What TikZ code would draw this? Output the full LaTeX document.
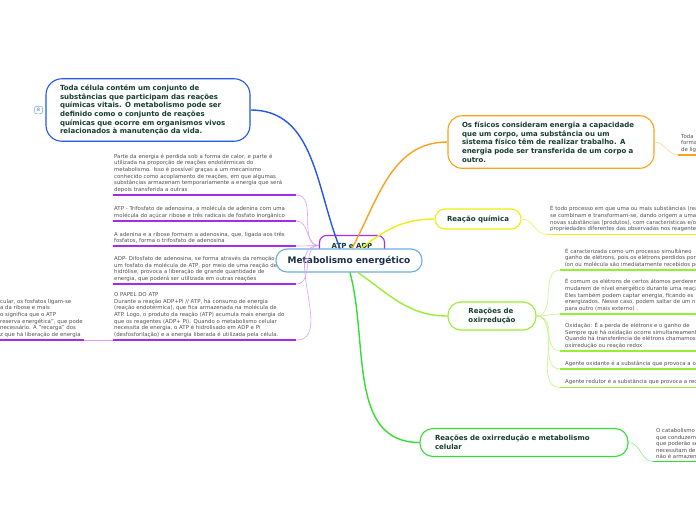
\documentclass[tikz,border=0pt]{standalone}
\usepackage{fontspec}
\setmainfont{DejaVu Sans}
\usepackage{tikz}
\usetikzlibrary{positioning}

\definecolor{cellblue}{HTML}{2457E8}
\definecolor{physorange}{HTML}{F9A21B}
\definecolor{chemyellow}{HTML}{EEEE11}
\definecolor{redoxlime}{HTML}{99EE33}
\definecolor{cellgreen}{HTML}{33DD33}
\definecolor{atppurple}{HTML}{A62BEA}
\definecolor{mainblue}{HTML}{6BAEDD}
\definecolor{nodetxt}{HTML}{143D2E}
\definecolor{maintxt}{HTML}{1B2E4B}
\definecolor{leaftxt}{HTML}{505050}

\begin{document}
\begin{tikzpicture}[
    x=1pt,y=-1pt,
    topic/.style={draw=#1,line width=1.1pt,rounded corners=12pt,fill=white,
                  align=left,text=nodetxt,font=\bfseries\fontsize{7}{8.7}\selectfont},
    leaf/.style={anchor=south west,align=left,text=leaftxt,inner xsep=1pt,
                 inner ysep=2.4pt,font=\fontsize{5.4}{6.6}\selectfont},
    uline/.style={line width=1.7pt,#1},
    branch/.style={line width=1.4pt,#1},
    twig/.style={line width=0.6pt,#1},
]
\useasboundingbox (0,0) rectangle (696,520);
\clip (0,0) rectangle (696,520);

% ATP e ADP (sits behind the central topic)
\node[draw=atppurple,line width=1.1pt,rounded corners=7pt,minimum width=65pt,
      minimum height=20pt,text=nodetxt,font=\bfseries\fontsize{7}{8.7}\selectfont]
      (atp) at (352,245.5) {ATP e ADP};

% ATP leaves (left)
\node[leaf,text width=181pt] (heat) at (113,195)
  {Parte da energia é perdida sob a forma de calor, e parte é\\
   utilizada na proporção de reações endotérmicas do\\
   metabolismo. Isso é possível graças a um mecanismo\\
   conhecido como acoplamento de reações, em que algumas\\
   substâncias armazenam temporariamente a energia que será\\
   depois transferida a outras};
\node[leaf,text width=181pt] (atpdef) at (113,221)
  {ATP - Trifosfato de adenosina, a molécula de adenina com uma\\
   molécula do açúcar ribose e três radicais de fosfato inorgânico};
\node[leaf,text width=181pt] (adenosine) at (113,246)
  {A adenina e a ribose formam a adenosina, que, ligada aos três\\
   fosfatos, forma o trifosfato de adenosina};
\node[leaf,text width=181pt] (adpdef) at (113,284)
  {ADP- Difosfato de adenosina, se forma através da remoção de\\
   um fosfato da molécula de ATP, por meio de uma reação de\\
   hidrólise, provoca a liberação de grande quantidade de\\
   energia, que poderá ser utilizada em outras reações};
\node[leaf,text width=181pt] (atprole) at (113,340)
  {O PAPEL DO ATP\\
   Durante a reação ADP+Pi // ATP, há consumo de energia\\
   (reação endotérmica), que fica armazenada na molécula de\\
   ATP. Logo, o produto da reação (ATP) acumula mais energia do\\
   que os reagentes (ADP+ Pi). Quando o metabolismo celular\\
   necessita de energia, o ATP é hidrolisado em ADP e Pi\\
   (desfosforilação) e a energia liberada é utilizada pela célula.};
\node[leaf] (atpleft) at (-1,340)
  {cular, os fosfatos ligam-se\\
   a da ribose e mais\\
   o significa que o ATP\\
   reserva energética", que pode\\
   necessário. A "recarga" dos\\
   z que há liberação de energia};

% Central topic
\node[draw=mainblue,line width=1.1pt,rounded corners=11pt,fill=white,
      minimum width=146pt,minimum height=23pt,text=maintxt,
      font=\bfseries\fontsize{9}{10}\selectfont] (main) at (349,260.5)
      {Metabolismo energético};

% Main topics
\node[topic=cellblue,rounded corners=16pt,text width=176pt,inner xsep=14pt,
      inner ysep=6pt] (cell) at (148,110)
  {Toda célula contém um conjunto de\\
   substâncias que participam das reações\\
   químicas vitais. O metabolismo pode ser\\
   definido como o conjunto de reações\\
   químicas que ocorre em organismos vivos\\
   relacionados à manutenção da vida.};
\node[draw=mainblue,rounded corners=2pt,line width=0.5pt,minimum width=8pt,
      minimum height=7.5pt,inner sep=0.5pt,text=cellblue,
      font=\fontsize{4.5}{5}\selectfont] (badge) at (38.5,110) {8};

\node[topic=physorange,rounded corners=14pt,text width=178pt,inner xsep=14pt,
      inner ysep=6pt] (phys) at (551,142)
  {Os físicos consideram energia a capacidade\\
   que um corpo, uma substância ou um\\
   sistema físico têm de realizar trabalho. A\\
   energia pode ser transferida de um corpo a\\
   outro.};

\node[topic=chemyellow,rounded corners=10pt,minimum width=86pt,
      minimum height=20pt] (chem) at (478,219) {Reação química};

\node[topic=redoxlime,rounded corners=13pt,minimum width=88pt,
      minimum height=28pt] (redox) at (492,316) {Reações de\\oxirredução};

\node[topic=cellgreen,rounded corners=13pt,text width=178pt,inner xsep=15pt,
      minimum height=28pt] (cellredox) at (524,442.5)
  {Reações de oxirredução e metabolismo\\celular};

% Right leaves
\node[leaf,inner xsep=3pt] (physleaf) at (678,155)
  {Toda\\forma\\de ligação};
\node[leaf,inner xsep=3pt] (chemleaf) at (547,234.5)
  {É todo processo em que uma ou mais substâncias (reagentes)\\
   se combinam e transformam-se, dando origem a uma\\
   novas substâncias (produtos), com características e/ou\\
   propriedades diferentes das observadas nos reagentes};
\node[leaf,inner xsep=5pt] (rxa) at (560,270)
  {É caracterizada como um processo simultâneo\\
   ganho de elétrons, pois os elétrons perdidos por\\
   íon ou molécula são imediatamente recebidos por};
\node[leaf,inner xsep=5pt] (rxb) at (560,314)
  {É comum os elétrons de certos átomos perderem\\
   mudarem de nível energético durante uma reação\\
   Eles também podem captar energia, ficando es\\
   energizados. Nesse caso, podem saltar de um nível\\
   para outro (mais externo) .};
\node[leaf,inner xsep=5pt] (rxc) at (560,351)
  {Oxidação: É a perda de elétrons e o ganho de\\
   Sempre que há oxidação ocorre simultaneamente\\
   Quando há transferência de elétrons chamamos\\
   oxirredução ou reação redox};
\node[leaf,inner xsep=5pt] (rxd) at (560,369)
  {Agente oxidante é a substância que provoca a oxidação};
\node[leaf,inner xsep=5pt] (rxe) at (560,387.5)
  {Agente redutor é a substância que provoca a redução};
\node[leaf,inner xsep=3pt] (catleaf) at (653,461.5)
  {O catabolismo\\que conduzem\\que poderão ser\\necessitam de\\não é armazenada};

% Branches from the centre
\draw[branch=cellblue] (cell.east) to[out=0,in=112] ([xshift=-9pt]main.north);
\draw[branch=physorange] ([xshift=3pt]main.north) to[out=62,in=180] (phys.west);
\draw[branch=chemyellow] ([xshift=12pt]main.north) to[out=38,in=180] (chem.west);
\draw[branch=redoxlime] ([xshift=9pt]main.south) to[out=-35,in=180] (redox.west);
\draw[branch=cellgreen] ([xshift=1pt]main.south) to[out=-75,in=180] (cellredox.west);

% Underlines
\draw[uline=atppurple] (heat.south west) -- (heat.south east);
\draw[uline=atppurple] (atpdef.south west) -- (atpdef.south east);
\draw[uline=atppurple] (adenosine.south west) -- (adenosine.south east);
\draw[uline=atppurple] (adpdef.south west) -- (adpdef.south east);
\draw[uline=atppurple] (atprole.south west) -- (atprole.south east);
\draw[uline=atppurple] (atpleft.south west) -- (atpleft.south east);
\draw[uline=physorange] (physleaf.south west) -- (physleaf.south east);
\draw[uline=chemyellow] (chemleaf.south west) -- (chemleaf.south east);
\draw[uline=redoxlime] (rxa.south west) -- (rxa.south east);
\draw[uline=redoxlime] (rxb.south west) -- (rxb.south east);
\draw[uline=redoxlime] (rxc.south west) -- (rxc.south east);
\draw[uline=redoxlime] (rxd.south west) -- (rxd.south east);
\draw[uline=redoxlime] (rxe.south west) -- (rxe.south east);
\draw[uline=cellgreen] (catleaf.south west) -- (catleaf.south east);

% Twigs to the leaves
\draw[twig=atppurple!45] (atp.west) to[out=180,in=0] (heat.south east);
\draw[twig=atppurple!45] (atp.west) to[out=180,in=0] (atpdef.south east);
\draw[twig=atppurple!45] (atp.west) to[out=180,in=0] (adenosine.south east);
\draw[twig=atppurple!45] (atp.west) to[out=180,in=0] (adpdef.south east);
\draw[twig=atppurple!45] (atp.west) to[out=180,in=0] (atprole.south east);
\draw[twig=atppurple!45] (atprole.south west) -- (atpleft.south east);
\draw[twig=physorange!50] (phys.east) to[out=0,in=180] (physleaf.south west);
\draw[twig=chemyellow!70] (chem.east) to[out=0,in=180] (chemleaf.south west);
\draw[twig=redoxlime!60] (redox.east) to[out=0,in=180] (rxa.south west);
\draw[twig=redoxlime!60] (redox.east) to[out=0,in=180] (rxb.south west);
\draw[twig=redoxlime!60] (redox.east) to[out=0,in=180] (rxc.south west);
\draw[twig=redoxlime!60] (redox.east) to[out=0,in=180] (rxd.south west);
\draw[twig=redoxlime!60] (redox.east) to[out=0,in=180] (rxe.south west);
\draw[twig=cellgreen!55] (cellredox.east) to[out=0,in=180] (catleaf.south west);

\end{tikzpicture}
\end{document}
